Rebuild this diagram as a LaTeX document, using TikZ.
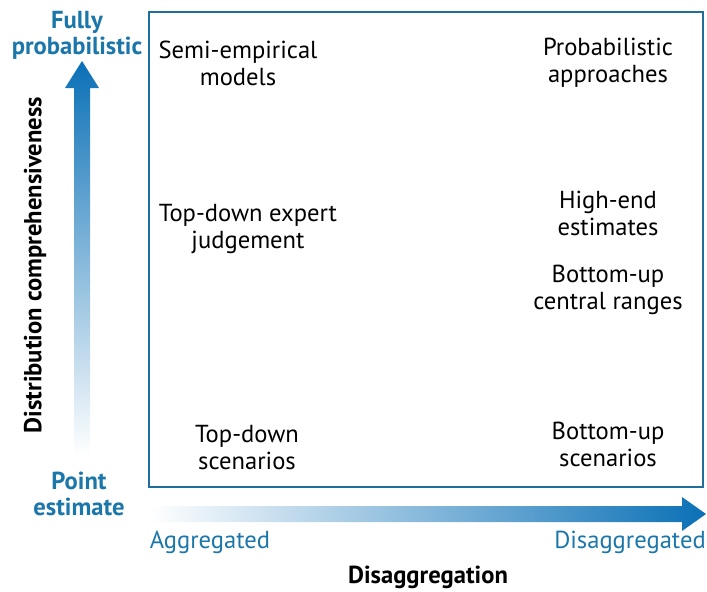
\documentclass[tikz,border=0pt]{standalone}
\usepackage{fontspec}
\setmainfont{PT Sans}
\definecolor{axisblue}{HTML}{1B76AA}
\definecolor{arrowblue}{HTML}{0A70B6}
\definecolor{boxblue}{HTML}{1F6F9C}

\begin{document}
\begin{tikzpicture}[x=0.025cm,y=-0.025cm,
  approach/.style={align=center,font=\fontsize{17.5}{19.2}\selectfont},
  axislabel/.style={align=center,text=axisblue,font=\fontsize{17.5}{18.6}\selectfont\bfseries},
  axisend/.style={text=axisblue,font=\fontsize{17.5}{19.2}\selectfont}]
\useasboundingbox (0,0) rectangle (707,591);

% frame
\draw[boxblue,line width=1.4pt] (149,12) rectangle (703,487);

% shaded axis arrows
\shade[bottom color=white,top color=arrowblue] (74,455) -- (74,88) -- (65,88) -- (82,61) -- (99,88) -- (90,88) -- (90,455) -- cycle;
\shade[left color=white,right color=arrowblue] (150,506) -- (682,506) -- (682,497) -- (706,514) -- (682,531) -- (682,522) -- (150,522) -- cycle;

% axis labels
\node[axislabel] (full) at (77,35) {Fully\\probabilistic};
\node[axislabel] (point) at (79,494) {Point\\estimate};
\node[axisend] (agg) at (210,542) {Aggregated};
\node[axisend] (disagg) at (630,542) {Disaggregated};
\node[font=\fontsize{17.5}{19.2}\selectfont\bfseries] (xtitle) at (428,577) {Disaggregation};
\node[rotate=90,font=\fontsize{17.5}{19.2}\selectfont\bfseries] (ytitle) at (35,265) {Distribution comprehensiveness};

% approaches
\node[approach] (semi) at (238,63) {Semi-empirical\\models};
\node[approach] (prob) at (608,63) {Probabilistic\\approaches};
\node[approach] (expert) at (248,229) {Top-down expert\\judgement};
\node[approach] (high) at (608,213) {High-end\\estimates};
\node[approach] (central) at (608,290) {Bottom-up\\central ranges};
\node[approach] (tdscen) at (247,448) {Top-down\\scenarios};
\node[approach] (buscen) at (608,444) {Bottom-up\\scenarios};

\end{tikzpicture}
\end{document}
